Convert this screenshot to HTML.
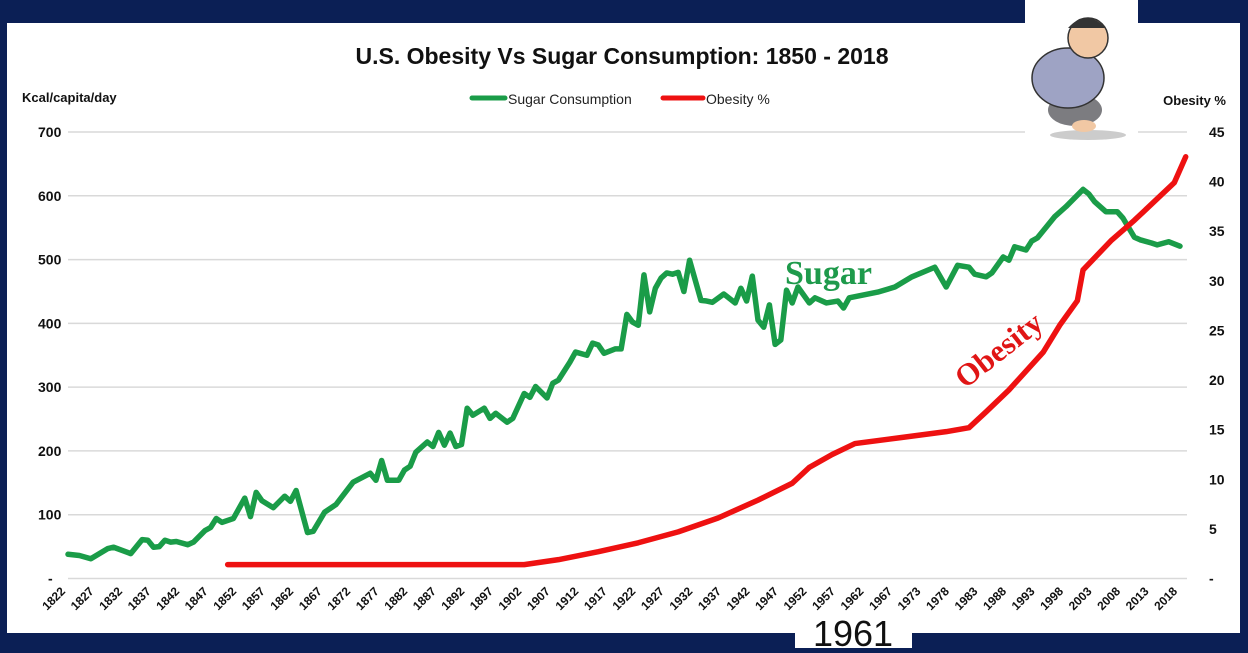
<!DOCTYPE html>
<html><head><meta charset="utf-8"><style>
body{margin:0;background:#0b1f55;width:1248px;height:648px;overflow:hidden;font-family:"Liberation Sans",sans-serif}
</style></head><body>
<svg id="c" width="1248" height="648" viewBox="0 0 1248 648" xmlns="http://www.w3.org/2000/svg">
<rect x="0" y="0" width="1248" height="648" fill="#0b1f55"/>
<rect x="7" y="23" width="1233" height="610" fill="#fff"/>
<text x="622" y="64" text-anchor="middle" font-size="23" font-weight="bold" fill="#111">U.S. Obesity Vs Sugar Consumption: 1850 - 2018</text>
<text x="22" y="102" font-size="13" font-weight="bold" fill="#111">Kcal/capita/day</text>
<text x="1226" y="105" text-anchor="end" font-size="13" font-weight="bold" fill="#111">Obesity %</text>
<g>
<line x1="472" y1="98" x2="505" y2="98" stroke="#1a9c48" stroke-width="5" stroke-linecap="round"/>
<text x="508" y="104" font-size="14" fill="#222">Sugar Consumption</text>
<line x1="663" y1="98" x2="703" y2="98" stroke="#ee1111" stroke-width="5" stroke-linecap="round"/>
<text x="706" y="104" font-size="14" fill="#222">Obesity %</text>
</g>
<g id="grid"></g><g id="axes"></g><g id="series"></g>
<text x="785" y="284" font-family="Liberation Serif,serif" font-size="34" font-weight="bold" fill="#1e9a4b">Sugar</text>
<text transform="translate(1005,358) rotate(-38)" text-anchor="middle" font-family="Liberation Serif,serif" font-size="31" font-weight="bold" fill="#e01515">Obesity</text>
<g>
<rect x="1025" y="0" width="113" height="140" fill="#fff"/>
<ellipse cx="1088" cy="135" rx="38" ry="5" fill="#ccc"/>
<ellipse cx="1075" cy="110" rx="27" ry="16" fill="#7c7c80"/>
<ellipse cx="1068" cy="78" rx="36" ry="30" fill="#9ea3c4" stroke="#333" stroke-width="1.5"/>
<ellipse cx="1088" cy="38" rx="20" ry="20" fill="#f1c8a4" stroke="#333" stroke-width="1.5"/>
<path d="M1068 28 Q1086 8 1106 28" fill="#333"/>
<ellipse cx="1084" cy="126" rx="12" ry="6" fill="#f1c8a4"/>
</g>
<g>
<rect x="795" y="612" width="117" height="36" fill="#fff"/>
<text x="853" y="646" text-anchor="middle" font-size="36" fill="#111">1961</text>
</g>
</svg>
<script>
const sugarYears=[1822,1824,1826,1829,1830,1833,1835,1836,1837,1838,1839,1840,1841,1843,1844,1846,1847,1848,1849,1851,1853,1854,1855,1856,1858,1860,1861,1862,1864,1865,1867,1869,1872,1875,1876,1877,1878,1880,1881,1882,1883,1885,1886,1887,1888,1889,1890,1891,1892,1893,1895,1896,1897,1899,1900,1902,1903,1904,1906,1907,1908,1910,1911,1913,1914,1915,1916,1918,1919,1920,1921,1922,1923,1924,1925,1926,1927,1928,1929,1930,1931,1933,1934,1935,1937,1939,1940,1941,1942,1943,1944,1945,1946,1947,1948,1949,1950,1952,1953,1955,1957,1958,1959,1964,1967,1970,1974,1976,1978,1980,1981,1983,1984,1986,1987,1988,1990,1991,1992,1995,1997,2000,2001,2002,2004,2006,2007,2009,2010,2012,2013,2015,2017];
const sugarValues=[38,36,31,47,49,39,61,60,49,50,60,57,58,53,57,75,80,94,88,94,126,97,135,122,111,129,121,138,72,74,104,116,151,165,154,185,154,154,170,176,198,214,207,229,209,228,207,210,267,256,267,251,259,245,251,290,284,301,283,306,311,339,355,350,369,366,353,360,360,414,402,397,476,418,455,471,479,477,480,450,499,436,435,433,446,432,455,435,474,405,394,429,367,374,452,432,457,432,440,432,435,424,440,449,457,473,488,457,491,488,477,473,479,504,499,520,515,529,534,567,583,610,603,591,575,575,565,535,531,526,523,528,521];
const obesityYears=[1850,1902,1908,1915,1922,1929,1936,1943,1949,1952,1956,1960,1968,1976,1980,1983,1987,1993,1996,1999,2000,2005,2009,2016,2018];
const obesityValues=[1.4,1.4,1.9,2.7,3.6,4.7,6.1,7.9,9.6,11.2,12.5,13.6,14.2,14.8,15.2,16.8,19,22.8,25.6,28,31.1,34.1,36.1,39.9,42.5];
const leftTicks=[0,100,200,300,400,500,600,700];
const leftTickLabels=["-","100","200","300","400","500","600","700"];
const rightTicks=[0,5,10,15,20,25,30,35,40,45];
const rightTickLabels=["-","5","10","15","20","25","30","35","40","45"];
const xTickLabels=["1822","1827","1832","1837","1842","1847","1852","1857","1862","1867","1872","1877","1882","1887","1892","1897","1902","1907","1912","1917","1922","1927","1932","1937","1942","1947","1952","1957","1962","1967","1973","1978","1983","1988","1993","1998","2003","2008","2013","2018"];

const NS="http://www.w3.org/2000/svg";
const X0=68,X1=1180,Y0=578.5,Y1=132;
const x=yr=>X0+(yr-1822)*(X1-X0)/195;
const yL=v=>Y0-v*(Y0-Y1)/700;
const yR=v=>Y0-v*(Y0-Y1)/45;
function mk(tag,attrs,parent){const e=document.createElementNS(NS,tag);for(const k in attrs)e.setAttribute(k,attrs[k]);document.getElementById(parent).appendChild(e);return e;}
leftTicks.forEach((t,i)=>{
  const g=mk('line',{x1:X0,x2:1187,y1:yL(t),y2:yL(t),stroke:'#d9d9d9','stroke-width':1.5},'grid');
  
  
  const l=mk('text',{x:t===0?48:38,y:yL(t)+5,'font-size':14,'font-weight':'bold',fill:'#111'},'axes');
  l.textContent=leftTickLabels[i];
  
  
});
rightTicks.forEach((t,i)=>{
  const l=mk('text',{x:1209,y:yR(t)+5,'font-size':14,'font-weight':'bold',fill:'#111'},'axes');
  l.textContent=rightTickLabels[i];
  
  
});
xTickLabels.forEach((s,i)=>{
  const px=x(1822+i*5)-2;
  const l=mk('text',{transform:`translate(${px},${592}) rotate(-45)`,'text-anchor':'end','font-size':12,'font-weight':'bold',fill:'#111'},'axes');
  l.textContent=s;
  
  
});
const sp=mk('polyline',{points:sugarYears.map((yr,i)=>x(yr)+','+yL(sugarValues[i])).join(' '),fill:'none',stroke:'#1a9c48','stroke-width':5.5,'stroke-linejoin':'round','stroke-linecap':'round'},'series');


const op=mk('polyline',{points:obesityYears.map((yr,i)=>x(yr)+','+yR(obesityValues[i])).join(' '),fill:'none',stroke:'#ee1111','stroke-width':5.5,'stroke-linejoin':'round','stroke-linecap':'round'},'series');


</script>
</body></html>
